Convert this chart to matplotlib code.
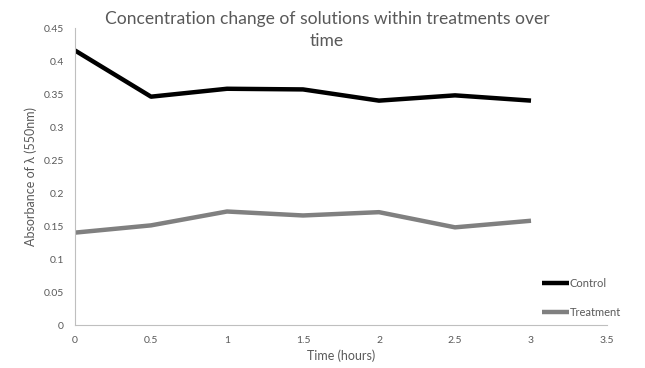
import matplotlib.pyplot as plt

plt.rcParams['font.family'] = ['Lato', 'DejaVu Sans']

time_hours = [0, 0.5, 1, 1.5, 2, 2.5, 3]
control = [0.416, 0.346, 0.358, 0.357, 0.340, 0.348, 0.340]
treatment = [0.140, 0.151, 0.172, 0.166, 0.171, 0.148, 0.158]

text_color = "#595959"
axis_color = "#BFBFBF"

fig = plt.figure(figsize=(6.45, 3.68), dpi=100)
ax = fig.add_axes([0.1163, 0.1168, 0.8248, 0.807])

ax.plot(time_hours, control, color="#000000", linewidth=3.2, label="Control", solid_capstyle="butt")
ax.plot(time_hours, treatment, color="#808080", linewidth=3.2, label="Treatment", solid_capstyle="butt")

ax.set_xlim(0, 3.5)
ax.set_ylim(0, 0.45)
ax.set_xticks([0, 0.5, 1, 1.5, 2, 2.5, 3, 3.5])
ax.set_xticklabels(["0", "0.5", "1", "1.5", "2", "2.5", "3", "3.5"])
ax.set_yticks([0, 0.05, 0.1, 0.15, 0.2, 0.25, 0.3, 0.35, 0.4, 0.45])
ax.set_yticklabels(["0", "0.05", "0.1", "0.15", "0.2", "0.25", "0.3", "0.35", "0.4", "0.45"])
ax.tick_params(length=0, labelsize=7.5, colors=text_color, pad=8)

for side in ["top", "right"]:
    ax.spines[side].set_visible(False)
for side in ["left", "bottom"]:
    ax.spines[side].set_color(axis_color)
    ax.spines[side].set_linewidth(0.8)

ax.set_xlabel("Time (hours)", fontsize=9, color=text_color, labelpad=3)
ax.set_ylabel("Absorbance of λ (550nm)", fontsize=9, color=text_color, labelpad=5)

fig.text(0.507, 0.918, "Concentration change of solutions within treatments over\ntime",
         ha="center", va="center", fontsize=12.6, color=text_color, linespacing=1.45)

fig.legend(loc="center left", bbox_to_anchor=(0.825, 0.19), frameon=False,
           fontsize=8, handlelength=2.4, handletextpad=0.1, labelspacing=1.6,
           labelcolor=text_color)

fig.savefig("out.png", dpi=100)
